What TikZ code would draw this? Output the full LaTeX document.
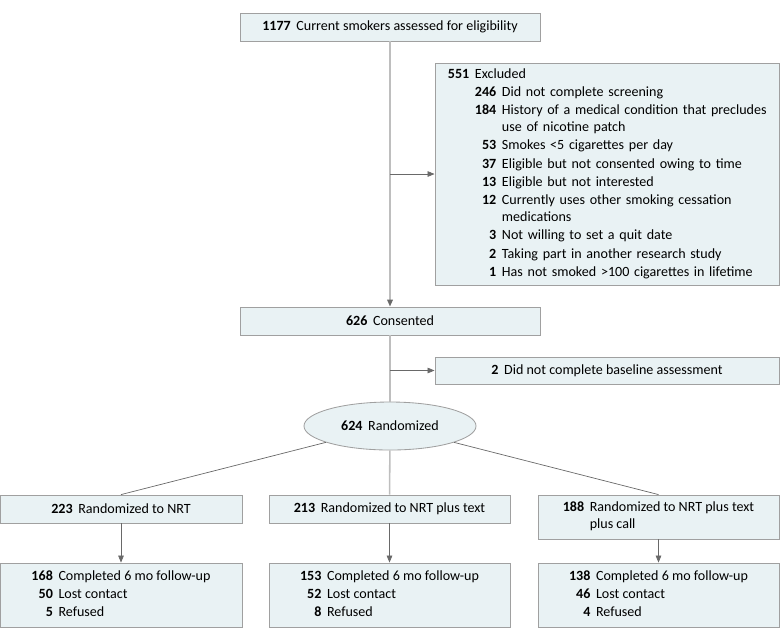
\documentclass[tikz,border=0pt]{standalone}
\usepackage{fontspec}
\setmainfont{Carlito}
\definecolor{boxfill}{RGB}{233,242,244}
\definecolor{boxline}{RGB}{160,160,160}
\definecolor{trunkgray}{RGB}{190,190,190}
\definecolor{arrowgray}{RGB}{105,105,105}
\usetikzlibrary{arrows.meta,shapes.geometric}
\newcommand{\nb}[1]{\textbf{#1}}
\tikzset{
  flowbox/.style={fill=boxfill,draw=boxline,line width=0.6pt,
    minimum height=0.7cm,inner sep=0pt,align=center},
  trunk/.style={draw=trunkgray,line width=1.1pt},
  arrowline/.style={draw=arrowgray,line width=0.5pt,
    -{Triangle[length=5pt,width=4pt]}},
  tip/.style={-{Triangle[length=5pt,width=4pt,color=arrowgray]}}
}

\begin{document}
\begin{tikzpicture}[x=0.025cm,y=-0.025cm,font=\fontsize{10}{12}\selectfont]
  \useasboundingbox (0,0) rectangle (780,641);

  \node[flowbox,minimum width=7.5cm] (elig) at (390,27)
    {\nb{1177}\hspace{4pt}Current smokers assessed for eligibility};
  \node[flowbox,minimum width=8.6cm,minimum height=5.55cm,align=left,
        text width=7.95cm] (excl) at (607,174) {%
    \begin{tabular}{@{}r@{\hspace{4pt}}r@{\hspace{4pt}}l@{}}
      \nb{551} & \multicolumn{2}{@{}l@{}}{Excluded}\\[1pt]
      & \nb{246} & Did not complete screening\\[1pt]
      & \nb{184} & History of a medical condition that precludes\\
      & & use of nicotine patch\\[1pt]
      & \nb{53} & Smokes <5 cigarettes per day\\[1pt]
      & \nb{37} & Eligible but not consented owing to time\\[1pt]
      & \nb{13} & Eligible but not interested\\[1pt]
      & \nb{12} & Currently uses other smoking cessation\\
      & & medications\\[1pt]
      & \nb{3} & Not willing to set a quit date\\[1pt]
      & \nb{2} & Taking part in another research study\\[1pt]
      & \nb{1} & Has not smoked >100 cigarettes in lifetime
    \end{tabular}};
  \node[flowbox,minimum width=7.5cm] (cons) at (390,321)
    {\nb{626}\hspace{4pt}Consented};
  \node[flowbox,minimum width=8.6cm,minimum height=0.675cm] (base) at (607,370.5)
    {\nb{2}\hspace{4pt}Did not complete baseline assessment};
  \node[ellipse,fill=boxfill,draw=boxline,line width=0.6pt,inner sep=0pt,
        minimum width=4.3cm,minimum height=1.2cm] (rand) at (390,426)
    {\nb{624}\hspace{4pt}Randomized};

  % study arms
  \node[flowbox,minimum width=6.05cm] (nrt) at (121,509)
    {\nb{223}\hspace{4pt}Randomized to NRT};
  \node[flowbox,minimum width=6.025cm] (nrttext) at (389.5,509)
    {\nb{213}\hspace{4pt}Randomized to NRT plus text};
  \node[flowbox,minimum width=6.025cm,minimum height=1.1cm] (nrtcall) at (658.5,517)
    {\begin{tabular}{@{}r@{\hspace{4pt}}l@{}}
      \nb{188} & Randomized to NRT plus text\\
      & plus call
    \end{tabular}};

  % follow-up
  \node[flowbox,minimum width=6.05cm,minimum height=1.6cm] (fu1) at (121,595)
    {\begin{tabular}{@{}r@{\hspace{4pt}}l@{}}
      \nb{168} & Completed 6 mo follow-up\\[1pt]
      \nb{50} & Lost contact\\[1pt]
      \nb{5} & Refused
    \end{tabular}};
  \node[flowbox,minimum width=6.025cm,minimum height=1.6cm] (fu2) at (389.5,595)
    {\begin{tabular}{@{}r@{\hspace{4pt}}l@{}}
      \nb{153} & Completed 6 mo follow-up\\[1pt]
      \nb{52} & Lost contact\\[1pt]
      \nb{8} & Refused
    \end{tabular}};
  \node[flowbox,minimum width=6.025cm,minimum height=1.6cm] (fu3) at (658.5,595)
    {\begin{tabular}{@{}r@{\hspace{4pt}}l@{}}
      \nb{138} & Completed 6 mo follow-up\\[1pt]
      \nb{46} & Lost contact\\[1pt]
      \nb{4} & Refused
    \end{tabular}};

  \draw[trunk,tip] (elig) -- (cons);
  \draw[arrowline] (elig.south |- excl.west) -- (excl.west);
  \draw[trunk] (cons) -- (rand);
  \draw[arrowline] (cons.south |- base.west) -- (base.west);
  \draw[trunk] (rand) -- (nrttext);
  \draw[draw=arrowgray,line width=0.5pt] (rand) -- (nrt.north);
  \draw[draw=arrowgray,line width=0.5pt] (rand) -- (nrtcall.north);
  \draw[arrowline] (nrt) -- (fu1);
  \draw[arrowline] (nrttext) -- (fu2);
  \draw[arrowline] (nrtcall) -- (fu3);
\end{tikzpicture}
\end{document}
